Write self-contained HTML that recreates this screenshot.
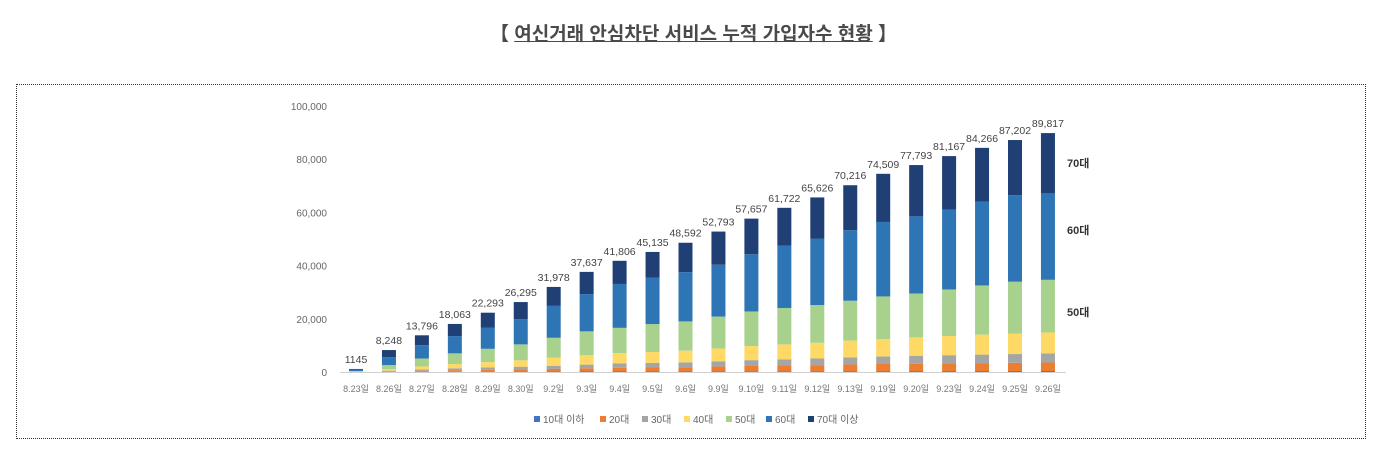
<!DOCTYPE html>
<html><head><meta charset="utf-8"><style>
body{margin:0;width:1387px;height:458px;background:#fff;overflow:hidden;font-family:"Liberation Sans","Noto Sans CJK KR",sans-serif;}
#title{position:absolute;left:0;width:1387px;top:19px;text-align:center;font-size:19px;font-weight:bold;color:#4a4a4a;}
#title span{text-decoration:underline;}
#box{position:absolute;left:16px;top:84px;width:1348px;height:353px;border:1px dotted #333;}
svg{position:absolute;left:0;top:0;}
</style></head><body>
<div id="title">【 <span>여신거래 안심차단 서비스 누적 가입자수 현황</span> 】</div>
<div id="box"></div>
<svg id="chart" width="1387" height="458"></svg>
<script>
const categories=["8.23일","8.26일","8.27일","8.28일","8.29일","8.30일","9.2일","9.3일","9.4일","9.5일","9.6일","9.9일","9.10일","9.11일","9.12일","9.13일","9.19일","9.20일","9.23일","9.24일","9.25일","9.26일"];
const totals=[1145,8248,13796,18063,22293,26295,31978,37637,41806,45135,48592,52793,57657,61722,65626,70216,74509,77793,81167,84266,87202,89817];
const totalLabels=["1145","8,248","13,796","18,063","22,293","26,295","31,978","37,637","41,806","45,135","48,592","52,793","57,657","61,722","65,626","70,216","74,509","77,793","81,167","84,266","87,202","89,817"];
const s10=[10,50,80,100,120,140,160,180,200,210,220,240,260,270,280,300,310,320,330,340,350,360];
const s20=[40,200,400,600,700,850,1000,1200,1400,1500,1600,1800,2000,2200,2300,2500,2700,2800,2900,3000,3100,3200];
const s30=[40,250,500,700,900,1000,1200,1400,1600,1700,1800,2000,2200,2300,2500,2700,2800,3000,3100,3200,3300,3400];
const s40=[80,600,1100,1600,2000,2400,3000,3500,3900,4100,4400,4800,5300,5600,5900,6300,6600,6900,7200,7500,7700,7900];
const s50=[200,1500,3000,4000,5000,6000,7500,9000,9500,10500,11000,12000,13000,13700,14200,15000,16000,16500,17500,18500,19500,19800];
const s60=[500,3000,5000,6500,8000,9500,12000,14000,16500,17500,18500,19500,21500,23500,25000,26500,28000,29000,30000,31500,32500,32500];
const yTicks=[0,20000,40000,60000,80000,100000];
const yTickLabels=["0","20,000","40,000","60,000","80,000","100,000"];
const seriesNames=["10대 이하","20대","30대","40대","50대","60대","70대 이상"];
const colors=["#4472c4","#ed7d31","#a5a5a5","#ffd966","#a9d18e","#2e75b6","#203f74"];

const NS="http://www.w3.org/2000/svg";
const svg=document.getElementById('chart');
function el(t,a,txt){const e=document.createElementNS(NS,t);for(const k in a)e.setAttribute(k,a[k]);if(txt!==undefined)e.textContent=txt;svg.appendChild(e);return e;}
const y0=372,yTop=106,x0=356,dx=32.95,bw=14;
const Y=v=>y0-(v/100000)*(y0-yTop);
const X=i=>x0+i*dx;
yTicks.forEach((t,i)=>{const e=el('text',{x:327,y:Y(t)+4,'text-anchor':'end','font-size':10,fill:'#666'},yTickLabels[i]);

});
const ax=el('line',{x1:340,x2:1066,y1:y0+0.5,y2:y0+0.5,stroke:'#d0d0d0'});


categories.forEach((c,i)=>{
  const seg=[s10[i],s20[i],s30[i],s40[i],s50[i],s60[i]];
  const last=totals[i]-seg.reduce((a,b)=>a+b,0);
  seg.push(last);
  let cum=0;
  seg.forEach((v,k)=>{
    const r=el('rect',{x:X(i)-bw/2,y:Y(cum+v),width:bw,height:Y(cum)-Y(cum+v),fill:colors[k]});
    
    
    cum+=v;
  });
  const t=el('text',{x:X(i),y:Y(totals[i])-6,'text-anchor':'middle','font-size':10.5,fill:'#444'},totalLabels[i]);
  
  
  const xl=el('text',{x:X(i),y:392,'text-anchor':'middle','font-size':9,fill:'#777'},c);
  
  
});
const legX=[534,600,642,684,726,766,808];
seriesNames.forEach((n,k)=>{
  const g=document.createElementNS(NS,'g');
  
  
  svg.appendChild(g);
  const r=document.createElementNS(NS,'rect');
  r.setAttribute('x',legX[k]);r.setAttribute('y',416);r.setAttribute('width',6);r.setAttribute('height',6);r.setAttribute('fill',colors[k]);
  g.appendChild(r);
  const t=document.createElementNS(NS,'text');
  t.setAttribute('x',legX[k]+9);t.setAttribute('y',423);t.setAttribute('font-size',10);t.setAttribute('fill','#666');
  t.textContent=n;g.appendChild(t);
});
[["70대",167],["60대",234],["50대",316]].forEach(a=>{
  const t=el('text',{x:1067,y:a[1],'font-size':11,'font-weight':'bold',fill:'#333'},a[0]);
  
  
});
</script>
</body></html>
